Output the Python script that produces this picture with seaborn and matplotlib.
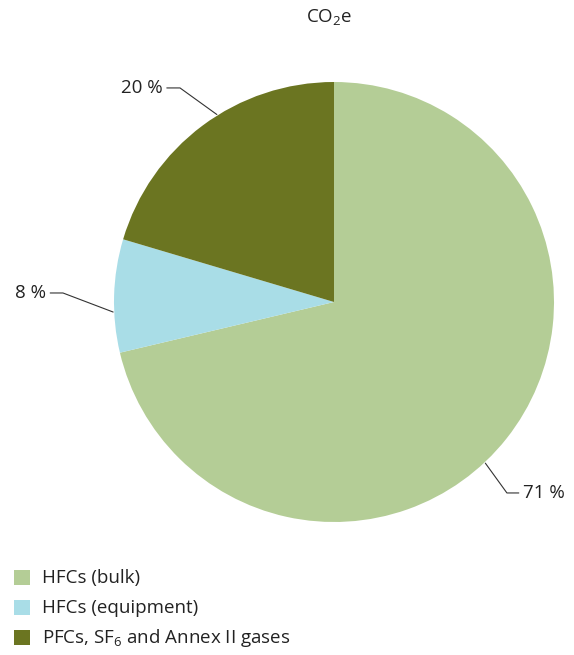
import matplotlib
matplotlib.use("Agg")
import matplotlib.pyplot as plt
import seaborn as sns
import numpy as np
from matplotlib.patches import Rectangle

# ---- data ----
categories = ["HFCs (bulk)", "HFCs (equipment)", r"PFCs, SF$_\mathregular{6}$ and Annex II gases"]
values = [71.3, 8.3, 20.4]
pct_labels = ["71 %", "8 %", "20 %"]
colors = ["#b4cd96", "#a9dde7", "#6b7521"]
title = r"CO$_\mathregular{2}$e"

sns.set_theme(style="white")
plt.rcParams["font.family"] = ["Open Sans", "DejaVu Sans"]
plt.rcParams["mathtext.fontset"] = "custom"
plt.rcParams["mathtext.rm"] = "Open Sans"

W, H = 574, 655
FS = 13.5
fig = plt.figure(figsize=(W / 100, H / 100), dpi=100)
ax = fig.add_axes([114 / W, (H - 522) / H, 440 / W, 440 / H])

wedges, _ = ax.pie(values, colors=colors, startangle=90, counterclock=False,
                   radius=1.0, wedgeprops=dict(linewidth=0))
ax.set_xlim(-1, 1)
ax.set_ylim(-1, 1)
ax.set_aspect("equal")
ax.axis("off")

# leader lines: anchor angle on rim, elbow, text position
anchor_deg = [-46.8, 182.6, 122.0]
elbows = [(0.786, -0.868), (-1.232, 0.041), (-0.70, 0.973)]
text_x = [0.86, -1.31, -0.78]
for ang, (ex, ey), tx, lab in zip(anchor_deg, elbows, text_x, pct_labels):
    a = np.deg2rad(ang)
    px, py = np.cos(a) * 1.005, np.sin(a) * 1.005
    hx = tx - 0.02 if tx > ex else tx + 0.02
    ax.plot([px, ex, hx], [py, ey, ey], color="#333333", lw=0.8,
            clip_on=False, solid_joinstyle="miter")
    ax.text(tx, ey, lab, ha="left" if tx > ex else "right", va="center",
            fontsize=FS, color="#222222")

fig.text(329 / W, 1 - 18 / H, title, ha="center", va="center",
         fontsize=FS, color="#222222")

# legend (manual, pixel-aligned)
for i, (c, lab) in enumerate(zip(colors, categories)):
    yc = 577 + 30 * i
    fig.patches.append(Rectangle((14 / W, 1 - (yc + 8) / H), 16 / W, 15 / H,
                                 transform=fig.transFigure, facecolor=c,
                                 edgecolor="none"))
    fig.text(42 / W, 1 - (yc + 1) / H, lab, ha="left", va="center",
             fontsize=FS, color="#222222")

fig.savefig("out.png", dpi=100)
